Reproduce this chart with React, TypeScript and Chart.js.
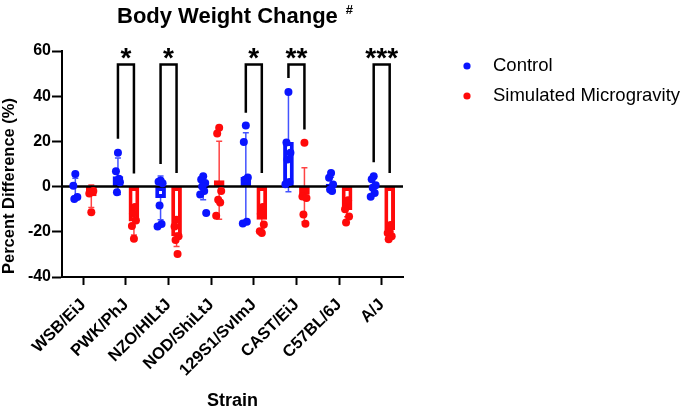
import React, { useEffect, useRef } from 'react';
import { Chart, registerables } from 'chart.js';
Chart.register(...registerables);

const categories = ['WSB/EiJ', 'PWK/PhJ', 'NZO/HILtJ', 'NOD/ShiLtJ', '129S1/SvImJ', 'CAST/EiJ', 'C57BL/6J', 'A/J'];
const seriesNames = ['Control', 'Simulated Microgravity'];

const controlMean = [-0.3, 4.6, -5.0, -0.6, 4.3, 19.7, 1.3, 0.2];
const controlSD = [4.0, 8.1, 9.7, 5.2, 19.5, 22.0, 2.8, 3.8];
const mgMean = [-4.3, -15.4, -22.0, 2.8, -14.7, -3.6, -10.3, -19.2];
const mgSD = [5.0, 6.0, 4.5, 17.3, 4.0, 11.9, 3.0, 2.5];

const controlPoints = [
  [5.6, 0.4, -4.6, -5.5],
  [15.0, 6.8, 1.9, -2.5, 3.5],
  [2.7, 2.2, 1.5, -8.4, -16.5, -17.6],
  [4.6, 3.1, 1.6, 0.0, -2.0, -3.5, -11.7],
  [27.0, 19.7, 4.0, 3.0, -15.5, -16.3],
  [41.9, 19.5, 15.0, 12.0, 2.0, 1.0],
  [6.0, 3.9, 0.9, -1.3, -2.0],
  [4.6, 3.3, 0.6, -0.5, -2.8, -4.5],
];
const mgPoints = [
  [-11.3, -3.0, -2.0],
  [-23.1, -17.4, -15.0, -12.0, -9.0],
  [-14.7, -17.6, -22.0, -23.6, -29.8],
  [26.0, 23.5, -2.0, -5.8, -7.0, -12.9],
  [-20.5, -19.8, -16.8, -12.0, -9.0],
  [19.4, -4.4, -5.0, -12.4, -16.4],
  [-8.7, -10.0, -13.2, -15.9, -6.0],
  [-19.9, -20.5, -22.0, -23.3, -17.0],
];

const sigIndex = [1, 2, 4, 5, 7];
const sigLabels = ['*', '*', '*', '**', '***'];
const sigTop = [54, 54, 54, 54, 54];
const sigLeftEnd = [21.2, 10.0, 32.7, 48.0, 10.8];
const sigRightEnd = [5.8, 6.0, 6.0, 25.3, 6.0];

const yTicks = { min: -40, max: 60, step: 20 };

export default function App() {
  const ref = useRef<HTMLCanvasElement>(null);

  useEffect(() => {
    const canvas = ref.current!;
    const FONT = 'Arial, "Liberation Sans", Helvetica, sans-serif';
    const BLUE = '#0a14ff';
    const RED = '#ff0a0a';
    const BLUE_L = 'rgba(20,40,255,0.8)';
    const RED_L = 'rgba(255,20,20,0.8)';
    const colors = [BLUE, RED];
    const lightColors = [BLUE_L, RED_L];
    const means = [controlMean, mgMean];
    const sds = [controlSD, mgSD];
    const pts = [controlPoints, mgPoints];
    const jitter = [0, -2, 2, -1, 1, -3, 3];

    const overlay = {
      id: 'overlay',
      beforeDatasetsDraw(chart: any) {
        const ctx = chart.ctx;
        const y = chart.scales.y;
        ctx.save();
        for (let d = 0; d < 2; d++) {
          const meta = chart.getDatasetMeta(d);
          ctx.strokeStyle = lightColors[d];
          ctx.lineWidth = 1.5;
          means[d].forEach((m: number, i: number) => {
            const x = meta.data[i].x;
            const yt = y.getPixelForValue(m + sds[d][i]);
            const yb = y.getPixelForValue(m - sds[d][i]);
            ctx.beginPath();
            ctx.moveTo(x, yt); ctx.lineTo(x, yb);
            ctx.moveTo(x - 3, yt); ctx.lineTo(x + 3, yt);
            ctx.moveTo(x - 3, yb); ctx.lineTo(x + 3, yb);
            ctx.stroke();
          });
        }
        ctx.restore();
      },
      afterDatasetsDraw(chart: any) {
        const ctx = chart.ctx;
        const y = chart.scales.y;
        const area = chart.chartArea;
        ctx.save();
        const y0 = y.getPixelForValue(0);
        ctx.strokeStyle = '#000';
        ctx.lineWidth = 2.5;
        ctx.beginPath();
        ctx.moveTo(area.left, y0); ctx.lineTo(area.right, y0);
        ctx.stroke();
        for (let d = 0; d < 2; d++) {
          const meta = chart.getDatasetMeta(d);
          ctx.fillStyle = colors[d];
          pts[d].forEach((arr: number[], i: number) => {
            const bx = meta.data[i].x;
            arr.forEach((v, j) => {
              ctx.beginPath();
              ctx.arc(bx + jitter[j % jitter.length], y.getPixelForValue(v), 4, 0, Math.PI * 2);
              ctx.fill();
            });
          });
        }
        const m0 = chart.getDatasetMeta(0);
        const m1 = chart.getDatasetMeta(1);
        ctx.strokeStyle = '#000';
        ctx.lineWidth = 2.5;
        ctx.fillStyle = '#000';
        ctx.font = `bold 28px ${FONT}`;
        ctx.textAlign = 'center';
        ctx.textBaseline = 'alphabetic';
        sigIndex.forEach((ci, k) => {
          const xl = m0.data[ci].x;
          const xr = m1.data[ci].x;
          const yt = y.getPixelForValue(sigTop[k]);
          ctx.beginPath();
          ctx.moveTo(xl, y.getPixelForValue(sigLeftEnd[k]));
          ctx.lineTo(xl, yt);
          ctx.lineTo(xr, yt);
          ctx.lineTo(xr, y.getPixelForValue(sigRightEnd[k]));
          ctx.stroke();
          ctx.fillText(sigLabels[k], (xl + xr) / 2, yt + 2);
        });
        ctx.restore();
      },
      afterDraw(chart: any) {
        const ctx = chart.ctx;
        ctx.save();
        ctx.fillStyle = '#000';
        ctx.font = `bold 22px ${FONT}`;
        ctx.textAlign = 'left';
        ctx.textBaseline = 'alphabetic';
        const title = 'Body Weight Change';
        ctx.fillText(title, 117, 23);
        const tw = ctx.measureText(title).width;
        ctx.font = `bold 13px ${FONT}`;
        ctx.fillText('#', 117 + tw + 8, 14);
        ctx.save();
        ctx.translate(9, 186);
        ctx.rotate(-Math.PI / 2);
        ctx.font = `bold 16.5px ${FONT}`;
        ctx.textAlign = 'center';
        ctx.textBaseline = 'middle';
        ctx.fillText('Percent Difference (%)', 0, 0);
        ctx.restore();
        ctx.font = `18.5px ${FONT}`;
        ctx.textAlign = 'left';
        ctx.textBaseline = 'middle';
        seriesNames.forEach((name, k) => {
          const ly = 66 + k * 30;
          ctx.fillStyle = colors[k];
          ctx.beginPath();
          ctx.arc(467, ly, 3.6, 0, Math.PI * 2);
          ctx.fill();
          ctx.fillStyle = '#000';
          ctx.fillText(name, 493, ly);
        });
        ctx.restore();
      },
    };

    const chart = new Chart(canvas, {
      type: 'bar',
      data: {
        labels: categories,
        datasets: [
          {
            label: seriesNames[0], data: controlMean, backgroundColor: '#ffffff', borderColor: BLUE,
            borderWidth: 4, borderSkipped: false, barPercentage: 0.67, categoryPercentage: 0.75,
          },
          {
            label: seriesNames[1], data: mgMean, backgroundColor: '#ffffff', borderColor: RED,
            borderWidth: 4, borderSkipped: false, barPercentage: 0.67, categoryPercentage: 0.75,
          },
        ],
      },
      options: {
        responsive: false,
        animation: false,
        devicePixelRatio: 1,
        layout: { padding: { left: 0, top: 51, right: 282, bottom: 0 } },
        plugins: { legend: { display: false }, tooltip: { enabled: false }, title: { display: false } },
        scales: {
          x: {
            grid: { drawOnChartArea: false, offset: false, tickLength: 8, tickColor: '#000', tickWidth: 2 },
            border: { color: '#000', width: 2 },
            ticks: { color: '#000', font: { family: FONT, size: 16.5, weight: 'bold' }, minRotation: 45, maxRotation: 45, padding: 10, autoSkip: false },
            title: { display: true, text: 'Strain', color: '#000', font: { family: FONT, size: 18, weight: 'bold' }, padding: { top: 0, bottom: -4 } },
            afterFit(scale: any) { scale.height = 131; },
          },
          y: {
            min: yTicks.min,
            max: yTicks.max,
            ticks: { stepSize: yTicks.step, color: '#000', font: { family: FONT, size: 16, weight: 'bold' }, padding: 1 },
            grid: { drawOnChartArea: false, tickLength: 10, tickColor: '#000', tickWidth: 2 },
            border: { color: '#000', width: 2 },
            afterFit(scale: any) { scale.width = 62; },
          },
        },
      } as any,
      plugins: [overlay],
    });
    return () => chart.destroy();
  }, []);

  return (
    <div style={{ position: 'absolute', left: 0, top: 0, width: 685, height: 408, background: '#fff' }}>
      <canvas ref={ref} width={685} height={408} style={{ width: 685, height: 408, display: 'block' }} />
    </div>
  );
}
